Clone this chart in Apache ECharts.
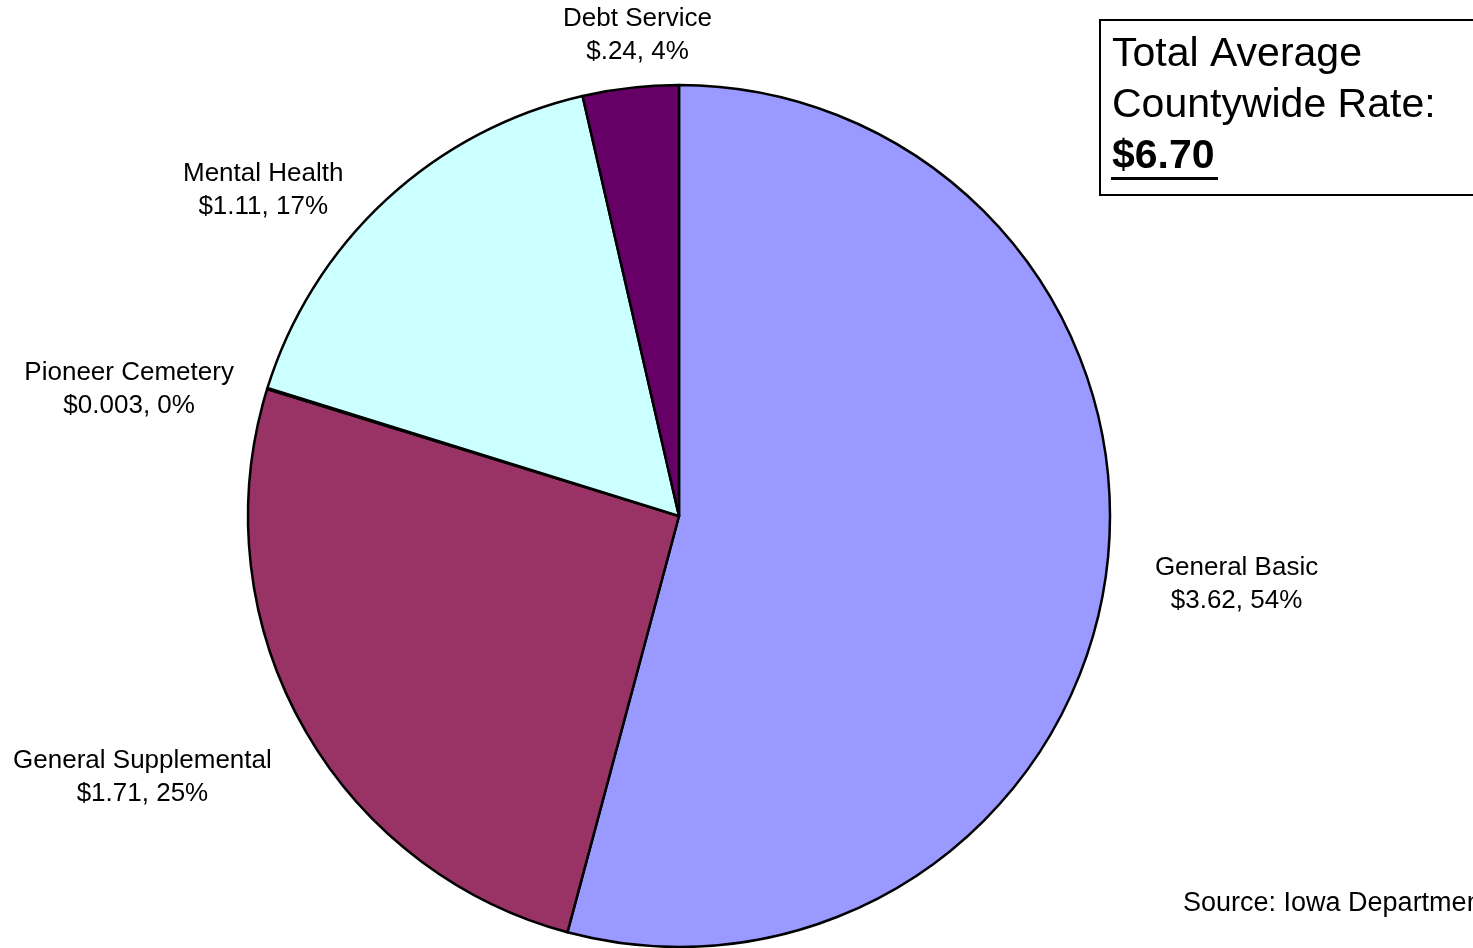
<!DOCTYPE html>
<html>
<head>
<meta charset="utf-8">
<title>Total Average Countywide Rate</title>
<script src="https://cdn.jsdelivr.net/npm/echarts@6/dist/echarts.min.js"></script>
<style>
  html, body { margin: 0; padding: 0; background: #fff; }
  #chart { width: 1473px; height: 948px; }
</style>
</head>
<body>
<div id="chart"></div>
<script>
// levy components, clockwise from 12 o'clock
var categories = ['General Basic', 'General Supplemental', 'Pioneer Cemetery', 'Mental Health', 'Debt Service']
var rates = [3.62, 1.71, 0.003, 1.11, 0.24]
var rateLabels = ['$3.62', '$1.71', '$0.003', '$1.11', '$.24']
var pctLabels = ['54%', '25%', '0%', '17%', '4%']
var totalRate = '$6.70'

// styling only
var colors = ['#9999FF', '#993366', '#FFFFCC', '#CCFFFF', '#660066']
var lineLen = [90, 109, -3, 13, 53]
var lineLen2 = [36, 59, 136, 109, -18]

var font = 'Arial, "Liberation Sans", sans-serif'

var chart = echarts.init(document.getElementById('chart'))

chart.setOption({
  backgroundColor: '#ffffff',
  animation: false,
  series: [{
    type: 'pie',
    center: [679, 516],
    radius: 431,
    startAngle: 90,
    clockwise: true,
    avoidLabelOverlap: false,
    itemStyle: {
      borderColor: '#000',
      borderWidth: 2.5
    },
    label: {
      show: true,
      position: 'outside',
      color: '#000',
      fontFamily: font,
      fontSize: 26,
      lineHeight: 33,
      formatter: function (p) {
        return p.name + '\n' + rateLabels[p.dataIndex] + ', ' + pctLabels[p.dataIndex]
      }
    },
    labelLine: { show: false },
    labelLayout: function () {
      return { align: 'center', verticalAlign: 'middle' }
    },
    emphasis: { disabled: true },
    data: categories.map(function (name, i) {
      return {
        name: name,
        value: rates[i],
        itemStyle: { color: colors[i] },
        labelLine: { show: false, length: lineLen[i], length2: lineLen2[i] }
      }
    })
  }],
  graphic: [
    {
      type: 'rect',
      shape: { x: 1100, y: 20, width: 500, height: 175 },
      style: { fill: '#fff', stroke: '#000', lineWidth: 2 }
    },
    {
      type: 'text',
      x: 1112,
      y: 29,
      style: {
        text: 'Total Average\nCountywide Rate:\n{b|' + totalRate + '}',
        font: '41px ' + font,
        fill: '#000',
        lineHeight: 51,
        verticalAlign: 'top',
        rich: {
          b: { fontWeight: 'bold', fontSize: 41, fontFamily: font, lineHeight: 51 }
        }
      }
    },
    {
      // underline under the bold total
      type: 'rect',
      shape: { x: 1111, y: 177, width: 107, height: 3 },
      style: { fill: '#000' }
    },
    {
      type: 'text',
      x: 1183,
      y: 904,
      style: {
        text: 'Source: Iowa Department of Management',
        font: '27px ' + font,
        fill: '#000',
        verticalAlign: 'middle'
      }
    }
  ]
})
</script>
</body>
</html>
